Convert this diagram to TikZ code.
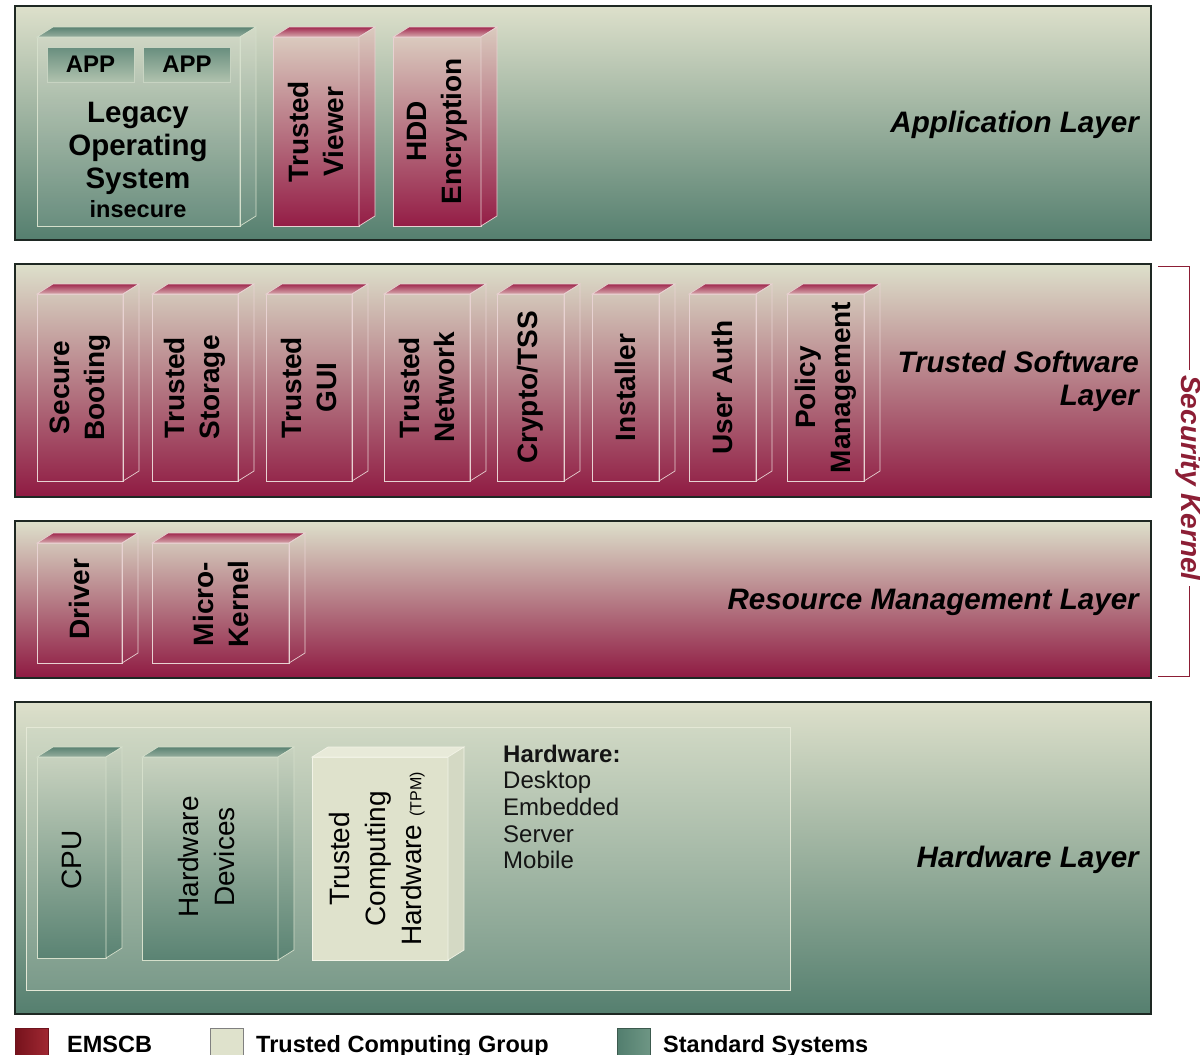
\documentclass[tikz,border=0pt]{standalone}
\usepackage{fontspec}
\setmainfont{Liberation Sans}
\definecolor{lt}{HTML}{DDE0CB}
\definecolor{gr}{HTML}{557F6F}
\definecolor{cr}{HTML}{8F1A42}
\definecolor{edgeR}{HTML}{E8D2D2}
\definecolor{edgeG}{HTML}{D5DFCB}
\definecolor{tcg}{HTML}{DFE2CC}
\definecolor{skc}{HTML}{8C1E35}
\definecolor{layline}{HTML}{1E2823}
\newcommand{\cubeAt}[7]{%
  \path[#5] (#1,#2) rectangle (#3,#4);
  \path[#6] (#1,#2) -- (#1+16,#2-10) -- (#3+16,#2-10) -- (#3,#2) -- cycle;
  \path[#7] (#3,#2) -- (#3+16,#2-10) -- (#3+16,#4-10) -- (#3,#4) -- cycle;
}
\tikzset{
  layerG/.style={draw=layline, line width=1.3pt, top color=lt, bottom color=gr},
  layerR/.style={draw=layline, line width=1.3pt, top color=lt, bottom color=cr},
  redfront/.style={draw=edgeR, line width=0.7pt},
  redtop/.style={draw=edgeR, line width=0.7pt, top color={rgb,255:red,160;green,40;blue,78}, bottom color={rgb,255:red,214;green,168;blue,172}},
  apfront/.style={draw=edgeR, line width=0.7pt, top color={rgb,255:red,218;green,202;blue,190}, bottom color={rgb,255:red,148;green,29;blue,70}},
  legfront/.style={draw=edgeG, line width=0.7pt, fill=white, fill opacity=0.08},
  gtop/.style={draw=edgeG, line width=0.7pt, top color={rgb,255:red,90;green,130;blue,114}, bottom color={rgb,255:red,150;green,174;blue,158}},
  gfront/.style={draw=edgeG, line width=0.7pt, top color={rgb,255:red,200;green,210;blue,191}, bottom color={rgb,255:red,90;green,131;blue,115}},
  tcfront/.style={draw={rgb,255:red,242;green,243;blue,230}, line width=0.7pt, fill=tcg},
  tctop/.style={draw={rgb,255:red,242;green,243;blue,230}, line width=0.7pt, fill={rgb,255:red,232;green,234;blue,217}},
  tcside/.style={draw={rgb,255:red,242;green,243;blue,230}, line width=0.7pt, fill={rgb,255:red,212;green,217;blue,196}},
  lbl/.style={inner sep=0pt, text=black},
  rlbl/.style={lbl, rotate=90, align=center, font=\bfseries\fontsize{28}{35}\selectfont},
  hlbl/.style={lbl, rotate=90, align=center, font=\fontsize{28}{36}\selectfont},
  title/.style={lbl, anchor=base east, font=\bfseries\itshape\fontsize{29.6}{33}\selectfont},
  list/.style={lbl, anchor=base west, text={rgb,255:red,20;green,20;blue,20}, font=\fontsize{24}{26}\selectfont},
  legtxt/.style={lbl, anchor=base west, font=\bfseries\fontsize{23.5}{26}\selectfont},
  legsq/.style={anchor=north west, minimum width=33pt, minimum height=34pt, inner sep=0pt},
  appbox/.style={draw={rgb,255:red,200;green,212;blue,194}, line width=0.7pt, top color={rgb,255:red,104;green,142;blue,126}, bottom color={rgb,255:red,176;green,194;blue,174}, inner sep=0pt, minimum width=87pt, minimum height=35pt, font=\bfseries\fontsize{24}{26}\selectfont}
}
\begin{document}
\begin{tikzpicture}[x=1pt,y=-1pt]
\useasboundingbox (0,0) rectangle (1200,1055);
\fill[white] (0,0) rectangle (1200,1055);

% ---------- layers
\path[layerG] (15,6) rectangle (1151,240);
\path[layerR] (15,264) rectangle (1151,497);
\path[layerR] (15,521) rectangle (1151,678);
\path[layerG] (15,702) rectangle (1151,1014);

% ---------- application layer
\cubeAt{37}{37}{240}{226}{legfront}{gtop}{legfront}
\node[appbox] (app1) at (90.5,64.5) {APP};
\node[appbox] (app2) at (187,64.5) {APP};
\node[lbl, align=center, font=\bfseries\fontsize{29.5}{33}\selectfont] (legacy) at (138,148) {Legacy\\Operating\\System};
\node[lbl, font=\bfseries\fontsize{23.5}{26}\selectfont] (insecure) at (138,209) {insecure};

\cubeAt{273}{37}{359}{226}{apfront}{redtop}{apfront}
\node[rlbl] (tv) at (316,131.5) {Trusted\\Viewer};
\cubeAt{393}{37}{481}{226}{apfront}{redtop}{apfront}
\node[rlbl] (hdd) at (437,131.5) {HDD\\Encryption};

\node[title] (tApp) at (1139,132) {Application Layer};

% ---------- trusted software layer
\cubeAt{37}{294}{123}{481}{redfront}{redtop}{redfront}
\node[rlbl] (sb) at (80,387.5) {Secure\\Booting};
\cubeAt{152}{294}{238}{481}{redfront}{redtop}{redfront}
\node[rlbl] (ts) at (195,387.5) {Trusted\\Storage};
\cubeAt{266}{294}{352}{481}{redfront}{redtop}{redfront}
\node[rlbl] (tg) at (309,387.5) {Trusted\\GUI};
\cubeAt{384}{294}{470}{481}{redfront}{redtop}{redfront}
\node[rlbl] (tn) at (427,387.5) {Trusted\\Network};
\cubeAt{497}{294}{564}{481}{redfront}{redtop}{redfront}
\node[rlbl] (ct) at (530.5,387.5) {Crypto/TSS};
\cubeAt{592}{294}{659}{481}{redfront}{redtop}{redfront}
\node[rlbl] (inst) at (625.5,387.5) {Installer};
\cubeAt{689}{294}{756}{481}{redfront}{redtop}{redfront}
\node[rlbl] (ua) at (722.5,387.5) {User Auth};
\cubeAt{787}{294}{864}{481}{redfront}{redtop}{redfront}
\node[rlbl] (pm) at (825.5,387.5) {Policy\\Management};

\node[title] (tTS1) at (1139,372) {Trusted Software};
\node[title] (tTS2) at (1139,405) {Layer};

% ---------- resource management layer
\cubeAt{37}{543}{122}{663}{redfront}{redtop}{redfront}
\node[rlbl] (drv) at (79.5,599) {Driver};
\cubeAt{152}{543}{289}{663}{redfront}{redtop}{redfront}
\node[rlbl] (mk) at (220.5,604) {Micro-\\Kernel};

\node[title] (tRM) at (1139,609) {Resource Management Layer};

% ---------- hardware layer
\path[draw={rgb,255:red,228;green,232;blue,214}, line width=1pt, top color={rgb,255:red,208;green,216;blue,196}, bottom color={rgb,255:red,122;green,154;blue,138}] (26,727) rectangle (790,990);
\cubeAt{37}{757}{106}{958}{gfront}{gtop}{gfront}
\node[hlbl] (cpu) at (71.5,860) {CPU};
\cubeAt{142}{757}{278}{960}{gfront}{gtop}{gfront}
\node[hlbl] (hwd) at (206,857) {Hardware\\Devices};
\cubeAt{312}{757}{448}{960}{tcfront}{tctop}{tcside}
\node[hlbl] (tch) at (377,859) {Trusted\\Computing\\Hardware {\fontsize{16}{18}\selectfont (TPM)}};

\node[list, font=\bfseries\fontsize{24}{26}\selectfont] (hwh) at (503,762) {Hardware:};
\node[list] (hw1) at (503,788.5) {Desktop};
\node[list] (hw2) at (503,815) {Embedded};
\node[list] (hw3) at (503,842) {Server};
\node[list] (hw4) at (503,868) {Mobile};

\node[title] (tHW) at (1139,867) {Hardware Layer};

% ---------- security kernel bracket
\node[inner xsep=5pt, inner ysep=0pt, rotate=-90, text=skc, font=\bfseries\itshape\fontsize{28}{30}\selectfont] (sk) at (1189,478) {Security Kernel};
\coordinate (skt) at (1158,266);
\coordinate (skb) at (1158,676);
\draw[skc, line width=1pt] (skt) -| (sk.west);
\draw[skc, line width=1pt] (skb) -| (sk.east);

% ---------- legend
\node[legsq, draw={rgb,255:red,110;green,20;blue,30}, left color={rgb,255:red,118;green,18;blue,28}, right color={rgb,255:red,160;green,40;blue,50}] (lgE) at (15,1028) {};
\node[legtxt] (lgEt) at (67,1052) {EMSCB};
\node[legsq, draw={rgb,255:red,128;green,128;blue,128}, fill=tcg] (lgT) at (210,1028) {};
\node[legtxt] (lgTt) at (256,1052) {Trusted Computing Group};
\node[legsq, draw={rgb,255:red,60;green,90;blue,78}, left color={rgb,255:red,82;green,126;blue,110}, right color={rgb,255:red,110;green,150;blue,132}] (lgS) at (617,1028) {};
\node[legtxt] (lgSt) at (663,1052) {Standard Systems};
\end{tikzpicture}
\end{document}
